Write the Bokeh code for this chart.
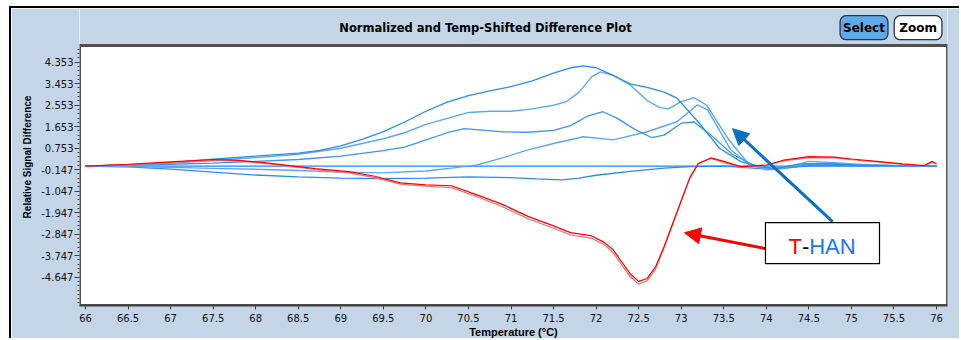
from bokeh.plotting import figure
from bokeh.models import Range1d, FixedTicker, Label, Arrow, NormalHead, BoxAnnotation
from bokeh.embed import file_html
from bokeh.resources import INLINE

# ---------------- data ----------------
x_tick_labels = ["66", "66.5", "67", "67.5", "68", "68.5", "69", "69.5", "70", "70.5", "71",
                 "71.5", "72", "72.5", "73", "73.5", "74", "74.5", "75", "75.5", "76"]
y_tick_labels = ["4.353", "3.453", "2.553", "1.653", "0.753", "-0.147", "-1.047",
                 "-1.947", "-2.847", "-3.747", "-4.647"]

temp_a = [66, 66.5, 67, 67.5, 68, 68.5, 68.75, 69, 69.25, 69.5, 69.75, 70, 70.25, 70.5, 70.75, 71,
          71.25, 71.5, 71.7, 71.85, 72.0, 72.2, 72.4, 72.6, 72.8, 72.95, 73.2, 73.45, 73.7, 73.9,
          74.1, 74.4, 74.7, 75, 75.5, 76]
sig_a = [0, 0.05, 0.15, 0.29, 0.42, 0.55, 0.66, 0.85, 1.12, 1.45, 1.85, 2.3, 2.68, 2.95, 3.15, 3.33,
         3.57, 3.9, 4.12, 4.2, 4.12, 3.8, 3.45, 3.3, 3.1, 2.85, 1.85, 0.75, 0.19, 0.0,
         -0.1, 0.1, 0.12, 0.05, 0.02, 0]

temp_b = [66, 66.5, 67, 67.5, 68, 68.5, 69, 69.25, 69.5, 69.75, 70, 70.25, 70.5, 70.75, 71, 71.25,
          71.5, 71.65, 71.8, 71.95, 72.05, 72.2, 72.4, 72.6, 72.75, 72.85, 73.0, 73.15, 73.3, 73.55,
          73.8, 74.0, 74.2, 74.5, 74.8, 75.2, 76]
sig_b = [0, 0.04, 0.13, 0.24, 0.36, 0.5, 0.75, 0.95, 1.15, 1.4, 1.75, 2.0, 2.25, 2.3, 2.3, 2.4,
         2.55, 2.7, 3.1, 3.75, 3.95, 3.8, 3.4, 2.75, 2.45, 2.4, 2.7, 2.87, 2.55, 1.15,
         0.06, -0.12, -0.08, 0.2, 0.15, 0.05, 0]

temp_c = [66, 66.5, 67, 67.5, 68, 68.5, 69, 69.5, 69.75, 70, 70.25, 70.45, 70.7, 70.9, 71.2, 71.5,
          71.7, 71.9, 72.08, 72.25, 72.45, 72.65, 72.8, 73.0, 73.15, 73.35, 73.6, 73.85, 74.05, 74.3,
          74.6, 75, 75.5, 76]
sig_c = [0, 0.03, 0.08, 0.13, 0.2, 0.28, 0.42, 0.65, 0.8, 1.1, 1.4, 1.57, 1.5, 1.44, 1.42, 1.5,
         1.7, 2.1, 2.28, 2.0, 1.55, 1.2, 1.3, 1.8, 1.85, 1.3, 0.5, 0.05, -0.1, -0.05,
         0.12, 0.06, 0.02, 0]

temp_d = [66, 66.5, 67, 67.5, 68, 68.5, 69, 69.5, 70, 70.3, 70.6, 70.9, 71.2, 71.5, 71.85, 72.2,
          72.6, 72.95, 73.19, 73.31, 73.58, 73.8, 74.0, 74.2, 74.5, 74.8, 75.2, 75.6, 76]
sig_d = [0, -0.02, -0.05, -0.09, -0.13, -0.18, -0.25, -0.28, -0.2, -0.08, 0.05, 0.35, 0.68, 0.95,
         1.23, 1.1, 1.44, 1.86, 2.57, 2.36, 0.69, 0.06, -0.15, -0.1, 0.1, 0.08, 0.03, 0.01, 0]

temp_e = [66, 66.5, 67, 67.5, 68, 68.5, 69, 69.5, 70, 70.5, 71, 71.3, 71.6, 71.8, 72.0, 72.4, 72.8,
          73.1, 73.5, 74.0, 74.3, 74.6, 75, 75.5, 76]
sig_e = [0, -0.03, -0.12, -0.25, -0.37, -0.45, -0.5, -0.52, -0.5, -0.45, -0.48, -0.53, -0.57, -0.5,
         -0.38, -0.22, -0.08, -0.02, 0.0, -0.12, -0.05, 0.05, 0.02, 0.0, 0]

temp_base = [66, 76]
sig_base = [0, 0]

temp_r = [66, 66.5, 67, 67.5, 67.8, 68.1, 68.4, 68.7, 69.1, 69.4, 69.7, 70.0, 70.3, 70.6, 70.9,
          71.2, 71.5, 71.7, 71.95, 72.1, 72.2, 72.3, 72.4, 72.5, 72.6, 72.7, 72.8, 72.9, 73.0,
          73.1, 73.2, 73.35, 73.5, 73.7, 74.0, 74.2, 74.5, 74.8, 75.0, 75.3, 75.6, 75.85, 75.95, 76.0]
sig_r1 = [0, 0.08, 0.18, 0.28, 0.24, 0.15, 0.02, -0.1, -0.23, -0.42, -0.7, -0.78, -0.82, -1.2, -1.6,
          -2.1, -2.5, -2.78, -2.92, -3.2, -3.5, -4.0, -4.5, -4.82, -4.7, -4.2, -3.35, -2.4, -1.45,
          -0.5, 0.1, 0.35, 0.2, -0.02, 0.05, 0.25, 0.4, 0.38, 0.3, 0.2, 0.1, 0.02, 0.2, 0.1]
sig_r2 = [0, 0.06, 0.15, 0.25, 0.21, 0.12, -0.01, -0.14, -0.28, -0.48, -0.75, -0.84, -0.9, -1.28, -1.7,
          -2.2, -2.6, -2.88, -3.02, -3.3, -3.62, -4.12, -4.62, -4.94, -4.8, -4.28, -3.4, -2.42, -1.45,
          -0.48, 0.12, 0.32, 0.16, -0.04, 0.03, 0.22, 0.36, 0.35, 0.27, 0.18, 0.08, 0.01, 0.17, 0.08]

# ---------------- figure ----------------
PANEL = "#c3d5e6"
PLOT_TOP = 5.052          # top of the white plotting area (data units)
Y_START, Y_END = -5.832, 6.601
X_START, X_END = 65.9295, 76.129

p = figure(width=950, height=332, output_backend="svg", toolbar_location=None, title=None,
           x_range=Range1d(X_START, X_END), y_range=Range1d(Y_START, Y_END),
           min_border_left=68, min_border_right=14, min_border_top=0, min_border_bottom=35)
p.styles = {"margin-left": "9px", "margin-top": "6px",
            "border-left": "2px solid black", "border-top": "2px solid black"}
p.border_fill_color = PANEL
p.background_fill_color = "white"
p.outline_line_color = None
p.grid.visible = False

# header band (panel colour above the white plotting area) and plot-area border
p.add_layout(BoxAnnotation(bottom=PLOT_TOP, fill_color=PANEL, fill_alpha=1.0, line_color=None,
                           level="underlay"))
p.add_layout(BoxAnnotation(top=PLOT_TOP, fill_alpha=0.0, line_color="#505050", line_alpha=1.0,
                           line_width=3, level="underlay"))

x_ticks = [float(s) for s in x_tick_labels]
y_ticks = [float(s) for s in y_tick_labels]
p.xaxis.ticker = FixedTicker(ticks=x_ticks, minor_ticks=[])
p.xaxis.major_label_overrides = {t: s for t, s in zip(x_ticks, x_tick_labels)}
step = (y_ticks[0] - y_ticks[1]) / 5
y_minor = [round(y_ticks[-1] + k * step, 4) for k in range(-8, 60)]
y_minor = [v for v in y_minor if Y_START <= v <= PLOT_TOP - 0.05]
p.yaxis.ticker = FixedTicker(ticks=y_ticks, minor_ticks=y_minor)
p.yaxis.major_label_overrides = {t: s for t, s in zip(y_ticks, y_tick_labels)}

for ax in (p.xaxis, p.yaxis):
    ax.major_tick_line_color = "#404040"
    ax.minor_tick_line_color = "#404040"
    ax.major_tick_in = 0
    ax.minor_tick_in = 0
    ax.major_label_text_font = "DejaVu Sans"
    ax.major_label_text_font_size = "10px"
    ax.major_label_text_color = "#111111"
    ax.axis_label_text_font = "Liberation Sans"
    ax.axis_label_text_font_style = "bold"
    ax.axis_label_text_color = "black"

p.xaxis.axis_line_color = "#404040"
p.xaxis.axis_line_width = 2
p.xaxis.major_tick_out = 4
p.xaxis.minor_tick_out = 0
p.xaxis.major_label_standoff = 4
p.xaxis.axis_label = "Temperature (°C)"
p.xaxis.axis_label_text_font_size = "11px"
p.xaxis.axis_label_standoff = 1
p.yaxis.axis_line_color = None
p.yaxis.major_tick_out = 5
p.yaxis.minor_tick_out = 2
p.yaxis.major_label_standoff = 1
p.yaxis.axis_label = "Relative Signal Difference"
p.yaxis.axis_label_text_font_size = "10px"
p.yaxis.axis_label_standoff = 5

# curves
p.line(temp_base, sig_base, line_color="#1a88ff", line_width=1.3)
p.line(temp_e, sig_e, line_color="#2a8cf0", line_width=1.3)
p.line(temp_d, sig_d, line_color="#5aa8f2", line_width=1.4)
p.line(temp_c, sig_c, line_color="#3a95f0", line_width=1.3)
p.line(temp_b, sig_b, line_color="#5aa8f2", line_width=1.4)
p.line(temp_a, sig_a, line_color="#2a8cf5", line_width=1.3)
p.line(temp_r, sig_r2, line_color="#ff6b6b", line_width=1.2)
p.line(temp_r, sig_r1, line_color="#ff0000", line_width=1.2)

# annotation: arrows and box
p.add_layout(Arrow(end=NormalHead(size=16, fill_color="#ff0000", line_color="#ff0000"),
                   x_start=73.995, y_start=-3.454, x_end=73.039, y_end=-2.784,
                   line_color="#ff0000", line_width=3))
p.add_layout(Arrow(end=NormalHead(size=16, fill_color="#0a70c0", line_color="#0a70c0"),
                   x_start=74.778, y_start=-2.324, x_end=73.603, y_end=1.569,
                   line_color="#0a70c0", line_width=3))
p.add_layout(BoxAnnotation(left=73.99, right=75.33, top=-2.365, bottom=-4.08,
                           fill_color="white", fill_alpha=1.0, line_color="black",
                           line_alpha=1.0, line_width=1.2))
for tx, txt, col in [(74.261, "T", "#ff0000"), (74.418, "-", "#000000"), (74.504, "HAN", "#1a75ff")]:
    p.add_layout(Label(x=tx, y=-3.37, text=txt, text_color=col, text_font="Liberation Sans",
                       text_font_size="22px", text_baseline="middle", text_align="left"))

# title and buttons in the header band
p.add_layout(Label(x=70.70, y=5.797, text="Normalized and Temp-Shifted Difference Plot",
                   text_font="DejaVu Sans", text_font_size="11.5px", text_font_style="bold",
                   text_align="center", text_baseline="middle", text_color="black"))
for bx, btxt, bfill, hpad in [(75.148, "Select", "#5eaae8", 3), (75.783, "Zoom", "white", 5)]:
    p.add_layout(Label(x=bx, y=5.797, text=btxt,
                       text_font="DejaVu Sans", text_font_size="12px", text_font_style="bold",
                       text_align="center", text_baseline="middle", text_color="black",
                       background_fill_color=bfill, background_fill_alpha=1.0,
                       border_line_color="#22364d", border_line_width=1.3, border_line_alpha=1.0,
                       border_radius=6,
                       padding=dict(left=hpad, right=hpad, top=5, bottom=5)))

open("out.html", "w").write(file_html(p, INLINE))
